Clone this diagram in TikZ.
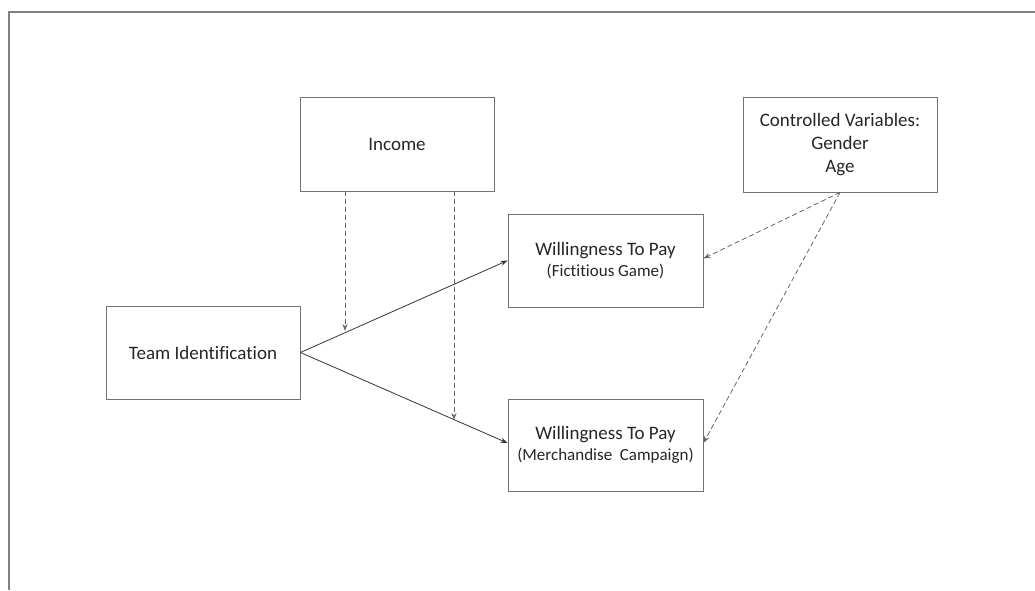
\documentclass[tikz,border=0pt]{standalone}
\usepackage{fontspec}
\setmainfont[Ligatures={NoCommon}]{Carlito}
\usetikzlibrary{arrows.meta}
\begin{document}
\begin{tikzpicture}[x=1pt,y=-1pt,
  box/.style={draw=black!55, line width=0.9pt, minimum width=194pt, align=center, inner sep=0pt, font=\fontsize{19}{23}\selectfont, text=black!85},
  solidarrow/.style={draw=black!80, line width=0.8pt, -{Stealth[length=7pt,width=5pt]}},
  dasharrow/.style={draw=black!60, line width=0.8pt, dash pattern=on 5pt off 3pt, -{Stealth[length=7pt,width=5pt]}}]
\useasboundingbox (0,0) rectangle (1035,590);
\fill[white] (0,0) rectangle (1035,590);
\draw[black!50, line width=2.2pt] (9,590) -- (9,12) -- (1035,12);
\node[box, minimum height=94pt] (income) at (397,144) {Income};
\node[box, minimum height=93pt] (team) at (203,352.5) {Team Identification};
\node[box, minimum height=93pt, minimum width=195pt] (wtp1) at (605.5,260.5) {\rule{0pt}{4pt}Willingness To Pay\\[-2pt]{\fontsize{17}{22}\selectfont (Fictitious Game)}};
\node[box, minimum height=92pt, minimum width=195pt] (wtp2) at (605.5,445) {\rule{0pt}{6pt}Willingness To Pay\\[-2pt]{\fontsize{17}{22}\selectfont (Merchandise\ \ Campaign)}};
\node[box, minimum height=95pt] (ctrl) at (840,144.5) {Controlled Variables:\\Gender\\Age};
\coordinate (m1) at (345,331);
\coordinate (m2) at (454,420);
\draw[solidarrow] (team.east) -- (wtp1.west);
\draw[solidarrow] (team.east) -- ([yshift=2pt]wtp2.west);
\draw[dasharrow] ([xshift=-52pt]income.south) -- (m1);
\draw[dasharrow] ([xshift=57pt]income.south) -- (m2);
\draw[dasharrow] (ctrl.south) -- ([yshift=2pt]wtp1.east);
\draw[dasharrow] (ctrl.south) -- ([yshift=2pt]wtp2.east);
\end{tikzpicture}
\end{document}
